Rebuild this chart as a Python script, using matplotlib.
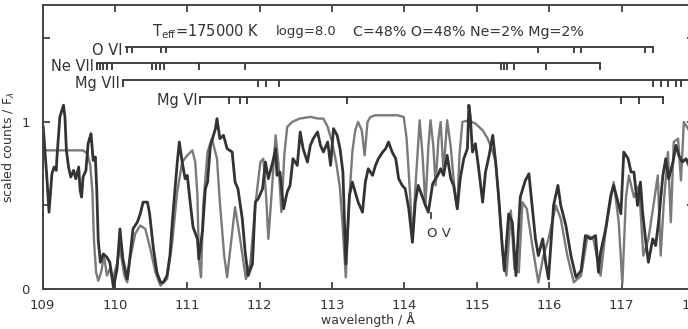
import numpy as np
import matplotlib
matplotlib.use('Agg')
import matplotlib.pyplot as plt

# observed spectrum (dark)
obs_wl = [109.01, 109.06, 109.09, 109.13, 109.16, 109.19, 109.20, 109.24, 109.29, 109.31,
          109.33, 109.36, 109.39, 109.43, 109.46, 109.50, 109.52, 109.54, 109.56, 109.60,
          109.63, 109.67, 109.70, 109.73, 109.75, 109.77, 109.80, 109.84, 109.89, 109.93,
          109.98, 110.03, 110.07, 110.11, 110.17, 110.21, 110.25, 110.31, 110.35, 110.39,
          110.45, 110.48, 110.53, 110.58, 110.63, 110.67, 110.72, 110.76, 110.80, 110.86,
          110.89, 110.93, 110.97, 111.00, 111.04, 111.08, 111.14, 111.16, 111.21, 111.25,
          111.28, 111.32, 111.39, 111.41, 111.45, 111.50, 111.55, 111.62, 111.66, 111.70,
          111.76, 111.80, 111.84, 111.90, 111.94, 111.98, 112.04, 112.08, 112.12, 112.18,
          112.22, 112.24, 112.28, 112.33, 112.38, 112.42, 112.46, 112.52, 112.56, 112.60,
          112.66, 112.70, 112.74, 112.80, 112.84, 112.88, 112.94, 112.98, 113.02, 113.07,
          113.11, 113.15, 113.19, 113.24, 113.28, 113.32, 113.36, 113.42, 113.46, 113.50,
          113.56, 113.60, 113.64, 113.70, 113.74, 113.78, 113.83, 113.88, 113.92, 113.97,
          114.01, 114.06, 114.11, 114.15, 114.19, 114.25, 114.29, 114.33, 114.39, 114.46,
          114.50, 114.54, 114.59, 114.64, 114.68, 114.73, 114.77, 114.82, 114.87, 114.89,
          114.91, 114.94, 114.98, 115.02, 115.08, 115.12, 115.17, 115.22, 115.26, 115.30,
          115.35, 115.38, 115.44, 115.49, 115.54, 115.60, 115.67, 115.72, 115.74, 115.81,
          115.85, 115.91, 115.95, 115.99, 116.06, 116.12, 116.16, 116.23, 116.30, 116.37,
          116.44, 116.50, 116.57, 116.64, 116.68, 116.71, 116.78, 116.85, 116.89, 116.95,
          116.99, 117.03, 117.09, 117.13, 117.17, 117.22, 117.26, 117.29, 117.33, 117.37,
          117.43, 117.47, 117.51, 117.57, 117.61, 117.65, 117.71, 117.75, 117.79, 117.84,
          117.89, 117.93]
obs_flux = [0.97, 0.67, 0.46, 0.69, 0.73, 0.71, 0.79, 1.03, 1.10, 1.03,
            0.83, 0.73, 0.67, 0.71, 0.66, 0.73, 0.59, 0.55, 0.67, 0.71,
            0.87, 0.93, 0.77, 0.79, 0.59, 0.29, 0.16, 0.21, 0.19, 0.16,
            0.01, 0.12, 0.36, 0.18, 0.06, 0.20, 0.36, 0.40, 0.45, 0.52,
            0.52, 0.45, 0.25, 0.10, 0.04, 0.04, 0.08, 0.20, 0.44, 0.75,
            0.88, 0.76, 0.66, 0.68, 0.52, 0.37, 0.30, 0.18, 0.35, 0.60,
            0.64, 0.86, 0.96, 1.02, 0.90, 0.92, 0.84, 0.82, 0.64, 0.60,
            0.42, 0.22, 0.08, 0.15, 0.52, 0.54, 0.60, 0.76, 0.66, 0.76,
            0.84, 0.68, 0.70, 0.48, 0.58, 0.62, 0.78, 0.74, 0.94, 0.84,
            0.76, 0.86, 0.90, 0.94, 0.86, 0.82, 0.88, 0.74, 0.96, 0.92,
            0.84, 0.70, 0.15, 0.56, 0.64, 0.58, 0.52, 0.46, 0.64, 0.72,
            0.68, 0.74, 0.78, 0.82, 0.84, 0.88, 0.82, 0.78, 0.66, 0.62,
            0.60, 0.48, 0.28, 0.52, 0.62, 0.55, 0.50, 0.46, 0.63, 0.68,
            0.72, 0.68, 0.80, 0.66, 0.62, 0.48, 0.66, 0.78, 0.84, 1.10,
            1.03, 0.82, 0.87, 0.74, 0.52, 0.70, 0.80, 0.92, 0.76, 0.56,
            0.26, 0.11, 0.45, 0.40, 0.08, 0.55, 0.65, 0.69, 0.60, 0.30,
            0.20, 0.30, 0.16, 0.06, 0.50, 0.62, 0.50, 0.38, 0.20, 0.07,
            0.11, 0.32, 0.30, 0.32, 0.10, 0.22, 0.36, 0.56, 0.62, 0.52,
            0.45, 0.82, 0.78, 0.70, 0.70, 0.50, 0.64, 0.46, 0.30, 0.16,
            0.30, 0.26, 0.40, 0.68, 0.78, 0.66, 0.76, 0.86, 0.80, 0.76,
            0.78, 0.74]

# model spectrum (grey)
mod_wl = [109.01, 109.56, 109.62, 109.66, 109.69, 109.71, 109.74, 109.77, 109.81, 109.85,
          109.89, 109.93, 109.97, 110.03, 110.07, 110.13, 110.17, 110.21, 110.28, 110.35,
          110.42, 110.49, 110.56, 110.63, 110.72, 110.79, 110.86, 110.93, 111.00, 111.07,
          111.11, 111.14, 111.16, 111.19, 111.22, 111.28, 111.34, 111.41, 111.45, 111.51,
          111.55, 111.61, 111.66, 111.73, 111.81, 111.87, 111.94, 112.01, 112.05, 112.09,
          112.12, 112.17, 112.22, 112.26, 112.30, 112.34, 112.38, 112.45, 112.55, 112.70,
          112.81, 112.88, 112.94, 113.00, 113.06, 113.11, 113.15, 113.19, 113.24, 113.28,
          113.32, 113.36, 113.41, 113.45, 113.49, 113.53, 113.60, 113.90, 113.99, 114.03,
          114.08, 114.11, 114.15, 114.21, 114.25, 114.29, 114.33, 114.36, 114.40, 114.43,
          114.47, 114.50, 114.54, 114.59, 114.64, 114.69, 114.73, 114.76, 114.80, 114.89,
          114.98, 115.08, 115.15, 115.22, 115.26, 115.31, 115.37, 115.41, 115.47, 115.52,
          115.58, 115.63, 115.69, 115.77, 115.85, 115.92, 115.99, 116.09, 116.16, 116.25,
          116.34, 116.44, 116.53, 116.61, 116.71, 116.78, 116.89, 116.96, 117.01, 117.06,
          117.10, 117.17, 117.24, 117.30, 117.37, 117.44, 117.50, 117.54, 117.58, 117.64,
          117.68, 117.72, 117.78, 117.82, 117.86, 117.93]
mod_flux = [0.83, 0.83, 0.81, 0.74, 0.58, 0.30, 0.10, 0.05, 0.10, 0.20,
            0.08, 0.12, 0.06, 0.15, 0.25, 0.08, 0.04, 0.18, 0.33, 0.38,
            0.36, 0.24, 0.10, 0.02, 0.06, 0.27, 0.58, 0.76, 0.80, 0.83,
            0.76, 0.56, 0.18, 0.07, 0.50, 0.82, 0.90, 0.78, 0.52, 0.20,
            0.07, 0.30, 0.49, 0.30, 0.06, 0.15, 0.50, 0.76, 0.78, 0.55,
            0.30, 0.60, 0.92, 0.75, 0.46, 0.80, 0.97, 1.00, 1.02, 1.03,
            1.02, 1.02, 0.97, 0.88, 0.75, 0.60, 0.35, 0.07, 0.55, 0.82,
            0.95, 1.00, 0.95, 0.80, 1.00, 1.03, 1.04, 1.04, 1.03, 0.90,
            0.55, 0.28, 0.60, 1.01, 0.80, 0.50, 0.85, 1.01, 0.85, 0.62,
            0.90, 1.00, 0.70, 1.01, 0.85, 0.60, 0.48, 0.80, 1.00, 1.01,
            0.99, 0.95, 0.90, 0.82, 0.76, 0.50, 0.15, 0.08, 0.47, 0.12,
            0.10, 0.52, 0.48, 0.25, 0.04, 0.20, 0.30, 0.50, 0.42, 0.20,
            0.04, 0.08, 0.32, 0.30, 0.08, 0.35, 0.64, 0.40, 0.03, 0.55,
            0.68, 0.55, 0.62, 0.20, 0.30, 0.50, 0.68, 0.20, 0.50, 0.82,
            0.40, 0.88, 0.90, 0.65, 1.00, 0.95]

# line identifications: name, bar level, bar start, bar end, line positions
ions = ['O VI', 'Ne VII', 'Mg VII', 'Mg VI']
ion_level = [1.45, 1.35, 1.25, 1.15]
ion_start = [110.15, 109.75, 110.11, 111.18]
ion_end = [117.43, 116.70, 117.93, 117.57]
ion_lines = [
    [110.17, 110.24, 110.64, 110.71, 115.84, 116.34, 116.44, 117.33, 117.43],
    [109.75, 109.80, 109.84, 109.89, 109.96, 110.51, 110.57, 110.62, 110.68,
     111.16, 111.80, 115.33, 115.37, 115.42, 115.51, 115.95, 116.70],
    [110.11, 111.98, 112.09, 112.27, 117.44, 117.54, 117.64, 117.75, 117.82],
    [111.18, 111.57, 111.73, 111.83, 113.20, 116.99, 117.24, 117.57],
]
ov_line = 114.37

W, H = 688, 329
fig = plt.figure(figsize=(W / 100, H / 100), dpi=100)
ax = fig.add_axes([42.5 / W, 40 / H, (694 - 42.5) / W, 284 / H])

ax.plot(mod_wl, mod_flux, color='#7a7a7a', lw=1.7)
ax.plot(obs_wl, obs_flux, color='#333333', lw=2.0)

tick_len = 0.04
for name, lev, a, b, lines in zip(ions, ion_level, ion_start, ion_end, ion_lines):
    ax.plot([a, b], [lev, lev], color='#333333', lw=1.3)
    ax.vlines(lines, lev - tick_len, lev, color='#333333', lw=1.3)
    ax.text(a - 0.04, lev - 0.02, name, ha='right', va='center',
            fontsize=10.5, color='#333333')

# O V marker
ax.vlines([ov_line], 0.42, 0.46, color='#333333', lw=1.2)
ax.text(ov_line + 0.1, 0.33, 'O V', ha='center', va='center', fontsize=9.5, color='#333333')

# header text
ax.text(110.51, 1.54, r'T$_{\rm eff}$=175000 K', ha='left', va='center', fontsize=10.5, color='#333333')
ax.text(112.22, 1.54, 'logg=8.0', ha='left', va='center', fontsize=9.5, color='#333333')
ax.text(113.29, 1.54, 'C=48% O=48% Ne=2% Mg=2%', ha='left', va='center', fontsize=10.3, color='#333333')

ax.set_xlim(109, 118)
ax.set_ylim(0, 1.70)
ax.set_xticks(np.arange(109, 119, 1))
ax.set_yticks([0, 0.5, 1, 1.5])
ax.set_yticklabels(['0', '', '1', ''])
ax.tick_params(direction='in', top=True, right=True, length=5, width=1.2,
               labelsize=9.5, colors='#333333')
ax.tick_params(axis='x', pad=7)
ax.tick_params(axis='y', pad=9)
for s in ax.spines.values():
    s.set_color('#444444')
    s.set_linewidth(1.4)

ax.set_xlabel('wavelength / Å', fontsize=9, color='#333333', labelpad=0)
ax.set_ylabel(r'scaled counts / F$_\lambda$', fontsize=9, color='#333333', labelpad=3)

fig.savefig('out.png', dpi=100)
